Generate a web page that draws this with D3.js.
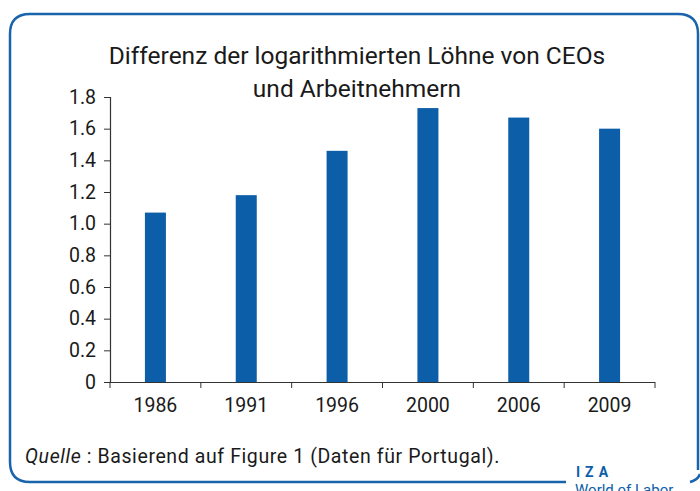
<!DOCTYPE html>
<html>
<head>
<meta charset="utf-8">
<script src="https://cdn.jsdelivr.net/npm/d3@7"></script>
<style>
  body { margin: 0; background: #fff; }
  svg { display: block; font-family: Roboto, "DejaVu Sans", sans-serif; }
</style>
</head>
<body>
<div id="chart"></div>
<script>
// data
const years = ["1986", "1991", "1996", "2000", "2006", "2009"];
const values = [1.07, 1.18, 1.46, 1.73, 1.67, 1.60];
const yTicks = [0, 0.2, 0.4, 0.6, 0.8, 1.0, 1.2, 1.4, 1.6, 1.8];

const W = 700, H = 491;
const margin = { top: 97, right: 45, bottom: 109, left: 110 };
const width = W - margin.left - margin.right;
const height = H - margin.top - margin.bottom;
const blue = "#0d5ea8";

const svg = d3.select("#chart").append("svg")
  .attr("width", W)
  .attr("height", H);

// rounded frame, with a gap at the bottom for the logo
svg.append("path")
  .attr("d", "M566,482 L30,482 Q10,482 10,462 L10,34 Q10,14 30,14 L678,14 Q698,14 698,34 L698,470")
  .attr("fill", "none")
  .attr("stroke", "#1a64ad")
  .attr("stroke-width", 2.5);
svg.append("path")
  .attr("d", "M690,482 Q698,480 700,474")
  .attr("fill", "none")
  .attr("stroke", "#1a64ad")
  .attr("stroke-width", 2.5);

// title
const title = svg.append("text")
  .attr("text-anchor", "middle")
  .attr("font-size", 24.5)
  .attr("fill", "#1a1a1a");
title.append("tspan").attr("x", 357).attr("y", 64).text("Differenz der logarithmierten Löhne von CEOs");
title.append("tspan").attr("x", 357).attr("y", 97).text("und Arbeitnehmern");

const g = svg.append("g")
  .attr("transform", `translate(${margin.left},${margin.top})`);

const x = d3.scaleBand().domain(years).range([0, width]);
const y = d3.scaleLinear().domain([0, 1.8]).range([height, 0]);

// bars
g.selectAll("rect")
  .data(values)
  .enter()
  .append("rect")
  .attr("x", (d, i) => x(years[i]) + x.bandwidth() / 2 - 10.5)
  .attr("y", d => y(d))
  .attr("width", 21)
  .attr("height", d => height - y(d))
  .attr("fill", blue);

// y axis
const yAxis = g.append("g")
  .call(d3.axisLeft(y).tickValues(yTicks).tickSize(6).tickPadding(8)
    .tickFormat(d => d === 0 ? "0" : d3.format(".1f")(d)));

// x axis: ticks on category boundaries
const xAxis = g.append("g")
  .attr("transform", `translate(0,${height})`)
  .call(d3.axisBottom(x).tickSize(0).tickPadding(16));
xAxis.selectAll(".bound")
  .data(d3.range(years.length + 1))
  .enter()
  .append("line")
  .attr("class", "bound")
  .attr("x1", i => i * x.step())
  .attr("x2", i => i * x.step())
  .attr("y1", 0)
  .attr("y2", 6)
  .attr("stroke", "#333");

[yAxis, xAxis].forEach(a => {
  a.select(".domain").attr("stroke", "#333").attr("stroke-width", 1.2);
  a.selectAll(".tick line").attr("stroke", "#333");
  a.selectAll("text")
    .attr("font-family", "Roboto, sans-serif")
    .attr("font-size", 19.5)
    .attr("fill", "#1a1a1a");
});
yAxis.select(".domain").attr("d", `M-6,0.5H0.5V${height}`);
xAxis.select(".domain").attr("d", `M0,0.5H${width}`);

// source note
const src = svg.append("text")
  .attr("x", 25)
  .attr("y", 463)
  .attr("font-size", 19.5)
  .attr("letter-spacing", 0.6)
  .attr("fill", "#1a1a1a");
src.append("tspan").attr("font-style", "italic").text("Quelle");
src.append("tspan").text(" : Basierend auf Figure 1 (Daten für Portugal).");

// logo
svg.append("text")
  .attr("x", 576)
  .attr("y", 477)
  .attr("font-size", 14)
  .attr("font-weight", "bold")
  .attr("letter-spacing", 5)
  .attr("fill", blue)
  .text("IZA");
svg.append("text")
  .attr("x", 575)
  .attr("y", 495)
  .attr("font-size", 15)
  .attr("fill", blue)
  .text("World of Labor");
</script>
</body>
</html>
